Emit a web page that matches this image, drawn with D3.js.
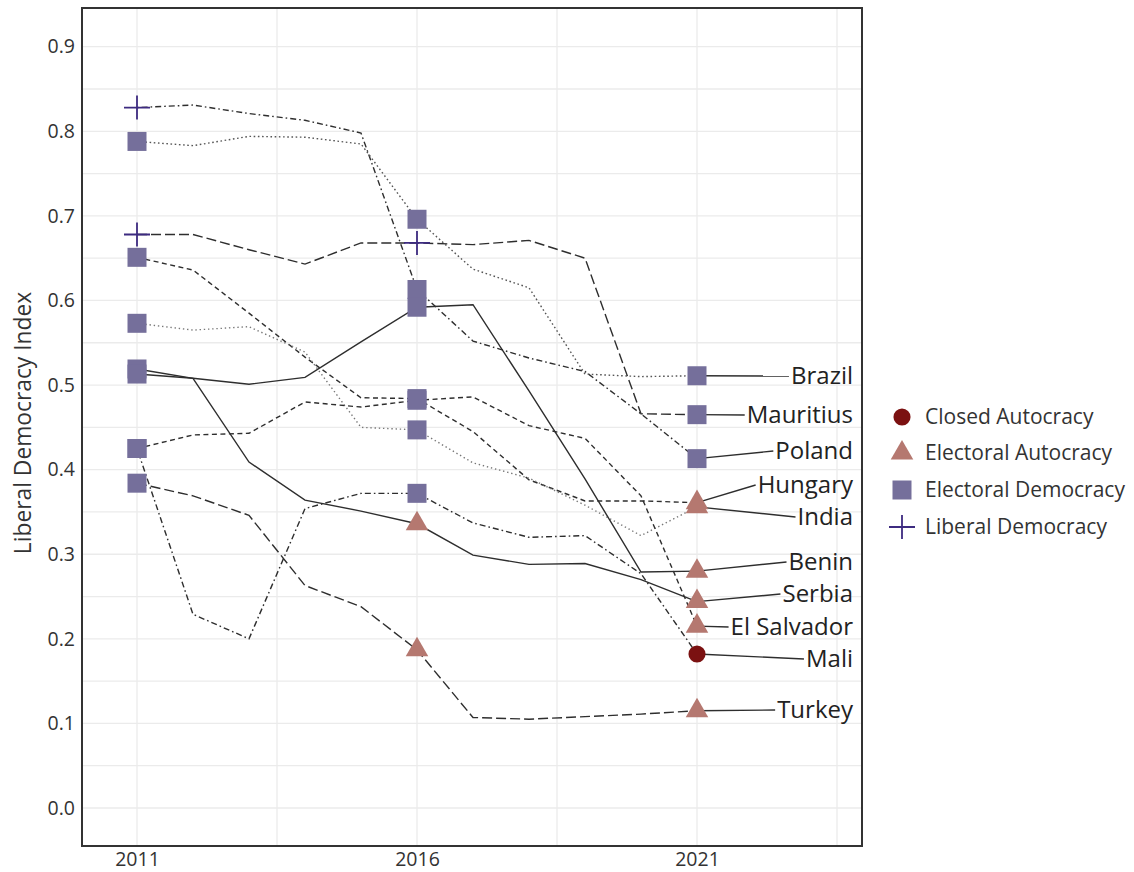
<!DOCTYPE html>
<html>
<head>
<meta charset="utf-8">
<script src="https://cdn.jsdelivr.net/npm/d3@7"></script>
<style>
  body { margin: 0; background: #fff; }
  text { font-family: "Open Sans", sans-serif; }
</style>
</head>
<body>
<div id="chart"></div>
<script>
// data
const years = [2011, 2012, 2013, 2014, 2015, 2016, 2017, 2018, 2019, 2020, 2021];
const countries = ["Poland", "Brazil", "Mauritius", "Hungary", "India", "Serbia", "Benin", "El Salvador", "Mali", "Turkey"];
const poland     = [0.828, 0.831, 0.821, 0.813, 0.798, 0.613, 0.552, 0.532, 0.516, 0.466, 0.413];
const brazil     = [0.788, 0.783, 0.794, 0.793, 0.785, 0.696, 0.637, 0.615, 0.513, 0.510, 0.511];
const mauritius  = [0.678, 0.678, 0.660, 0.643, 0.668, 0.668, 0.666, 0.671, 0.650, 0.466, 0.465];
const hungary    = [0.651, 0.636, 0.585, 0.533, 0.485, 0.484, 0.445, 0.388, 0.363, 0.363, 0.361];
const india      = [0.573, 0.565, 0.569, 0.539, 0.450, 0.447, 0.408, 0.390, 0.358, 0.322, 0.356];
const serbia     = [0.519, 0.508, 0.409, 0.364, 0.351, 0.336, 0.299, 0.288, 0.289, 0.270, 0.244];
const benin      = [0.513, 0.508, 0.501, 0.509, 0.551, 0.592, 0.595, 0.493, 0.389, 0.279, 0.280];
const elSalvador = [0.425, 0.441, 0.443, 0.480, 0.474, 0.482, 0.486, 0.452, 0.437, 0.369, 0.215];
const mali       = [0.425, 0.229, 0.200, 0.354, 0.372, 0.372, 0.337, 0.320, 0.322, 0.277, 0.182];
const turkey     = [0.384, 0.369, 0.346, 0.263, 0.238, 0.187, 0.107, 0.105, 0.108, 0.111, 0.115];
const series = [poland, brazil, mauritius, hungary, india, serbia, benin, elSalvador, mali, turkey];

const markerYears = [2011, 2016, 2021];
const regimeTypes = ["Closed Autocracy", "Electoral Autocracy", "Electoral Democracy", "Liberal Democracy"];
// regime per country at 2011, 2016, 2021 (index into regimeTypes)
const regime2011 = [3, 2, 3, 2, 2, 2, 2, 2, 2, 2];
const regime2016 = [2, 2, 3, 2, 2, 1, 2, 2, 2, 1];
const regime2021 = [2, 2, 2, 1, 1, 1, 1, 1, 0, 1];

const yTicks = [0, 0.1, 0.2, 0.3, 0.4, 0.5, 0.6, 0.7, 0.8, 0.9];
const xTicks = [2011, 2016, 2021];

// styles and layout
const dashes = {
  "Poland": "1.6,3,6,3", "Brazil": "1.6,2.6", "Mauritius": "10,4", "Hungary": "5,3.5",
  "India": "1.4,2.8", "Serbia": null, "Benin": null, "El Salvador": "5,3.5",
  "Mali": "1.6,3,6,3", "Turkey": "10,4"
};
const lineColor = { "India": "#777", "Brazil": "#555" };
const labelY = {
  "Brazil": 376, "Mauritius": 415, "Poland": 451, "Hungary": 485, "India": 517,
  "Benin": 562, "Serbia": 594, "El Salvador": 627, "Mali": 659, "Turkey": 710
};
const regimeColor = ["#7b1111", "#b57870", "#756f9b", "#3d2b80"];

const W = 1134, H = 872;
const plot = { left: 82, top: 8, right: 862, bottom: 846 };

const svg = d3.select("#chart").append("svg")
  .attr("width", W)
  .attr("height", H);

const x = d3.scaleLinear().domain([2011, 2021]).range([137, 697]);
const y = d3.scaleLinear().domain([0, 0.9]).range([808, 46.7]);

// grid
const grid = svg.append("g");
d3.range(0, 0.91, 0.05).forEach(v => {
  grid.append("line")
    .attr("x1", plot.left).attr("x2", plot.right)
    .attr("y1", y(v)).attr("y2", y(v))
    .attr("stroke", "#ebebeb").attr("stroke-width", 1.3);
});
[2011, 2013.5, 2016, 2018.5, 2021, 2023.5].forEach(v => {
  grid.append("line")
    .attr("y1", plot.top).attr("y2", plot.bottom)
    .attr("x1", x(v)).attr("x2", x(v))
    .attr("stroke", "#ebebeb").attr("stroke-width", 1.3);
});

// axes
const yAxis = svg.append("g")
  .attr("transform", `translate(${plot.left},0)`)
  .call(d3.axisLeft(y).tickValues(yTicks).tickSize(0).tickPadding(7).tickFormat(d3.format(".1f")));
const xAxis = svg.append("g")
  .attr("transform", `translate(0,${plot.bottom})`)
  .call(d3.axisBottom(x).tickValues(xTicks).tickSize(0).tickPadding(6).tickFormat(d3.format("d")));
[yAxis, xAxis].forEach(a => {
  a.select(".domain").remove();
  a.selectAll("text")
    .style("font-family", '"Open Sans", sans-serif')
    .style("font-size", "19.5px")
    .style("font-weight", 500)
    .attr("fill", "#333");
});

svg.append("text")
  .attr("transform", `translate(31,${(plot.top + plot.bottom) / 2 - 4}) rotate(-90)`)
  .attr("text-anchor", "middle")
  .style("font-size", "22.8px")
  .attr("fill", "#333")
  .text("Liberal Democracy Index");

// country lines
const line = d3.line()
  .x((d, i) => x(years[i]))
  .y(d => y(d));

svg.append("g").selectAll("path")
  .data(series)
  .join("path")
  .attr("d", line)
  .attr("fill", "none")
  .attr("stroke", (d, i) => lineColor[countries[i]] || "#2e2e2e")
  .attr("stroke-width", 1.4)
  .attr("stroke-dasharray", (d, i) => dashes[countries[i]]);

// labels with leader lines
const labelX = 853;
const lab = svg.append("g");
countries.forEach((c, i) => {
  const t = lab.append("text")
    .attr("x", labelX)
    .attr("y", labelY[c])
    .attr("dy", "0.35em")
    .attr("text-anchor", "end")
    .style("font-size", "24px")
    .attr("fill", "#222")
    .text(c);
  const w = t.node().getComputedTextLength();
  lab.insert("line", "text")
    .attr("x1", x(2021)).attr("y1", y(series[i][10]))
    .attr("x2", labelX - w - 2).attr("y2", labelY[c])
    .attr("stroke", "#2e2e2e").attr("stroke-width", 1.4);
});

// markers
function drawMarker(g, type, cx, cy) {
  if (type === 3) {
    g.append("path")
      .attr("d", `M${cx - 13},${cy}H${cx + 13}M${cx},${cy - 12}V${cy + 12}`)
      .attr("stroke", regimeColor[3]).attr("stroke-width", 1.8).attr("fill", "none");
    return;
  }
  const sym = type === 0 ? d3.symbolCircle : type === 1 ? d3.symbolTriangle : d3.symbolSquare;
  const size = type === 0 ? 230 : type === 1 ? 220 : 361;
  g.append("path")
    .attr("d", d3.symbol().type(sym).size(size)())
    .attr("transform", `translate(${cx},${cy})`)
    .attr("fill", regimeColor[type]);
}

const marks = svg.append("g");
const regimeAt = [regime2011, regime2016, regime2021];
markerYears.forEach((yr, k) => {
  const idx = years.indexOf(yr);
  countries.forEach((c, i) => {
    drawMarker(marks, regimeAt[k][i], x(yr), y(series[i][idx]));
  });
});

// panel frame
svg.append("rect")
  .attr("x", plot.left).attr("y", plot.top)
  .attr("width", plot.right - plot.left).attr("height", plot.bottom - plot.top)
  .attr("fill", "none").attr("stroke", "#333").attr("stroke-width", 2);

// legend
const legendY = [417, 453, 490, 527];
const leg = svg.append("g");
regimeTypes.forEach((r, k) => {
  drawMarker(leg, k, 902, legendY[k]);
  leg.append("text")
    .attr("x", 925).attr("y", legendY[k])
    .attr("dy", "0.35em")
    .style("font-size", "21px")
    .attr("fill", "#333")
    .text(r);
});
</script>
</body>
</html>
